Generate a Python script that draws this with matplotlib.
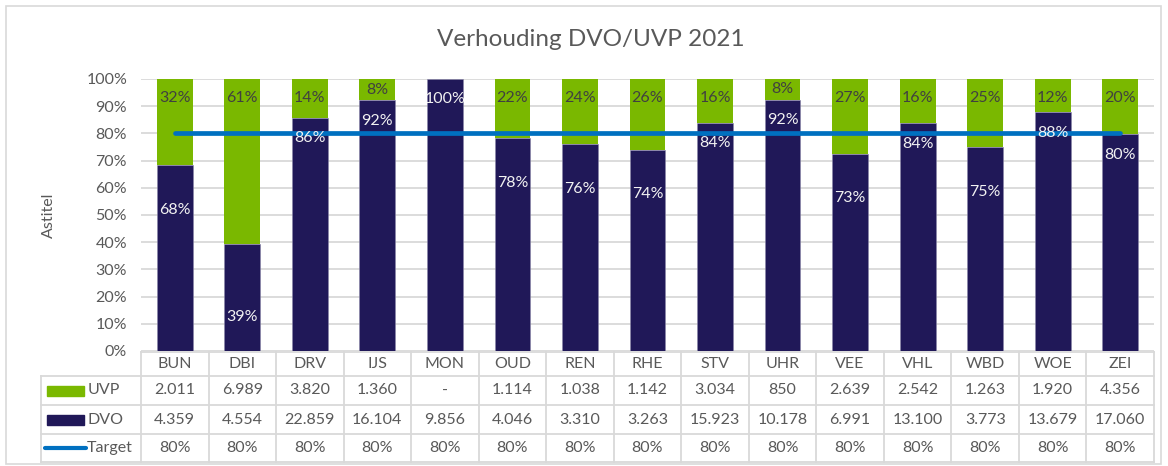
import matplotlib.pyplot as plt
from matplotlib.patches import Rectangle
from matplotlib.lines import Line2D

plt.rcParams['font.family'] = ['Lato', 'DejaVu Sans']

teams = ['BUN', 'DBI', 'DRV', 'IJS', 'MON', 'OUD', 'REN', 'RHE', 'STV',
         'UHR', 'VEE', 'VHL', 'WBD', 'WOE', 'ZEI']
uvp = [2011, 6989, 3820, 1360, 0, 1114, 1038, 1142, 3034, 850, 2639, 2542, 1263, 1920, 4356]
dvo = [4359, 4554, 22859, 16104, 9856, 4046, 3310, 3263, 15923, 10178, 6991, 13100, 3773, 13679, 17060]
target = [0.80] * 15

GREEN = '#7AB800'
NAVY = '#201858'
BLUE = '#0070C0'
GRID = '#D9D9D9'
TXT = '#595959'

W, H = 1168, 466
fig = plt.figure(figsize=(W / 100, H / 100), dpi=100)


def px_axes(x0, y0, x1, y1):
    # pixel box (top-left origin) -> figure axes
    return fig.add_axes([x0 / W, 1 - y1 / H, (x1 - x0) / W, (y1 - y0) / H])


# outer chart border
fig.patches.append(Rectangle((6 / W, 1 - 464 / H), 1155 / W, 458 / H, transform=fig.transFigure,
                             fill=False, edgecolor=GRID, linewidth=1.2))

n = len(teams)
totals = [u + d for u, d in zip(uvp, dvo)]
dvo_pct = [d / t for d, t in zip(dvo, totals)]
uvp_pct = [u / t for u, t in zip(uvp, totals)]
x = list(range(n))

ax = px_axes(141, 79, 1154, 351)
ax.bar(x, dvo_pct, width=0.53, color=NAVY, edgecolor='#8A86A8', linewidth=0.4, zorder=2)
ax.bar(x, uvp_pct, width=0.53, bottom=dvo_pct, color=GREEN, zorder=2)
ax.plot(x, target, color=BLUE, linewidth=3.4, solid_capstyle='round', zorder=3)

ax.set_xlim(-0.5, n - 0.5)
ax.set_ylim(0, 1)
ax.set_yticks([i / 10 for i in range(11)])
ax.set_yticklabels(['{}%'.format(i * 10) for i in range(11)], color=TXT, fontsize=11.5)
ax.tick_params(axis='y', length=0, pad=10)
ax.set_xticks([])
ax.grid(axis='y', color=GRID, linewidth=1.3, zorder=0)
for s in ax.spines.values():
    s.set_visible(False)
ax.set_ylabel('Astitel', color=TXT, fontsize=11.5, labelpad=22)

# data labels (manual nudge for DBI as in the original)
nudge = {'DBI': -0.105}
for i, t in enumerate(teams):
    v = dvo_pct[i]
    ly = v - 0.075 if v >= 0.795 else v - 0.165
    ly += nudge.get(t, 0)
    ax.text(i, ly, '{:.0%}'.format(v), ha='center', va='center', color='#F2F2F2',
            fontsize=11.5, zorder=4)
    u = uvp_pct[i]
    if u > 0:
        uy = 0.93 if u >= 0.1 else 1 - u / 2
        ax.text(i, uy, '{:.0%}'.format(u), ha='center', va='center', color='#404040',
                fontsize=11.5, zorder=4)

fig.text(591 / W, 1 - 40 / H, 'Verhouding DVO/UVP 2021', ha='center', va='center',
         color=TXT, fontsize=17.5)

# data table under the axis
colw = (1154 - 141) / n
left = -0.5 - (141 - 41) / colw
tb = px_axes(41, 352, 1154, 462)
tb.set_xlim(left, n - 0.5)
tb.set_ylim(110, 0)
tb.axis('off')
rows = [0, 24, 53, 82, 110]
lk = dict(color=GRID, linewidth=1.3, clip_on=False)
tb.plot([-0.5, n - 0.5], [0, 0], **lk)
for r in rows[1:]:
    tb.plot([left, n - 0.5], [r, r], **lk)
for k in range(n + 1):
    tb.plot([k - 0.5, k - 0.5], [0, 110], **lk)
tb.plot([left, left], [24, 110], **lk)


def fmt(v):
    return '-' if v == 0 else '{:,}'.format(v).replace(',', '.')


for i in range(n):
    tb.text(i, 12, teams[i], ha='center', va='center', color=TXT, fontsize=11.5)
    tb.text(i, 38.5, fmt(uvp[i]), ha='center', va='center', color=TXT, fontsize=11.5)
    tb.text(i, 67.5, fmt(dvo[i]), ha='center', va='center', color=TXT, fontsize=11.5)
    tb.text(i, 96, '{:.0%}'.format(target[i]), ha='center', va='center', color=TXT, fontsize=11.5)


def lx(p):
    return left + (p - 41) / colw


tb.add_patch(Rectangle((lx(47), 33.5), lx(84) - lx(47), 10, color=GREEN, clip_on=False))
tb.add_patch(Rectangle((lx(47), 62.5), lx(84) - lx(47), 10, color=NAVY, clip_on=False))
tb.add_line(Line2D([lx(45), lx(86)], [96, 96], color=BLUE, linewidth=3, solid_capstyle='round'))
tb.text(lx(88), 38.5, 'UVP', ha='left', va='center', color=TXT, fontsize=11.5)
tb.text(lx(88), 67.5, 'DVO', ha='left', va='center', color=TXT, fontsize=11.5)
tb.text(lx(87), 96, 'Target', ha='left', va='center', color=TXT, fontsize=11.5)

fig.savefig('out.png', dpi=100)
